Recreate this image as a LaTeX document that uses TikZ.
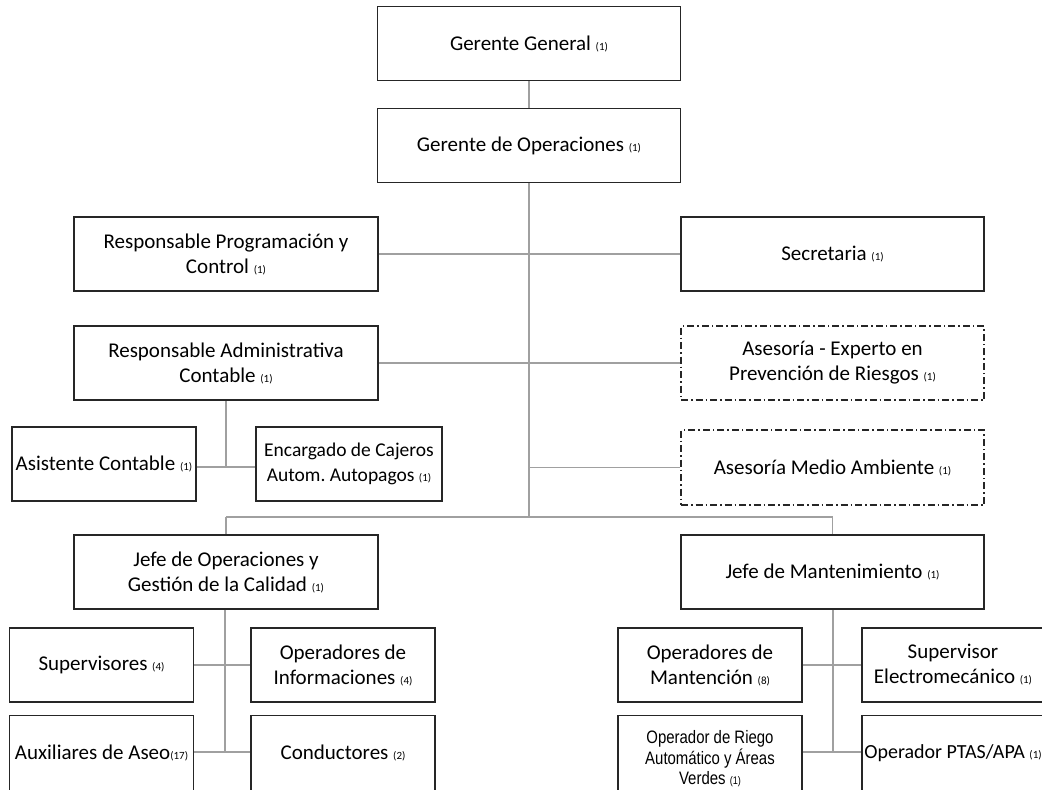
\documentclass[tikz,border=0pt]{standalone}
\usepackage{fontspec}
\setmainfont{Carlito}
\newfontfamily\narrowfont[FakeStretch=0.83]{Liberation Sans}
\definecolor{boxline}{HTML}{262626}
\definecolor{conn}{HTML}{A0A0A0}
\newcommand{\cnt}[1]{{\fontsize{11}{13}\selectfont #1}}
\tikzset{
  orgbox/.style={draw=boxline, line width=1.8pt, align=center, inner sep=1pt,
    font=\fontsize{21}{25}\selectfont, text=black},
  wide/.style={minimum width=303pt, minimum height=74pt},
  small/.style={minimum width=184pt, minimum height=74pt},
  dashbox/.style={line width=1.6pt, dash pattern=on 7pt off 3pt on 1.5pt off 3pt},
  link/.style={draw=conn, line width=1.5pt}
}
\begin{document}
\begin{tikzpicture}[x=1pt,y=-1pt]
\useasboundingbox[fill=white] (0,0) rectangle (1042,790);
% top
\node[orgbox,wide] (gg) at (529,43.5) {Gerente General \cnt{(1)}};
\node[orgbox,wide] (go) at (529,145.5) {Gerente de Operaciones \cnt{(1)}};
% staff
\node[orgbox,wide,minimum width=304pt] (rpc) at (226,254) {Responsable Programación y\\Control \cnt{(1)}};
\node[orgbox,wide] (sec) at (832.5,254) {Secretaria \cnt{(1)}};
\node[orgbox,wide,minimum width=304pt] (rac) at (226,363) {Responsable Administrativa\\Contable \cnt{(1)}};
\node[orgbox,wide,dashbox] (ape) at (832.5,363) {Asesoría - Experto en\\Prevención de Riesgos \cnt{(1)}};
\node[orgbox,wide,dashbox,minimum height=75pt] (ama) at (832.5,467.5) {Asesoría Medio Ambiente \cnt{(1)}};
\node[orgbox,small,inner sep=0pt] (asc) at (104,464) {Asistente Contable \cnt{(1)}};
\node[orgbox,small,minimum width=186pt,font=\fontsize{19.5}{25}\selectfont] (eca) at (349,464) {Encargado de Cajeros\\Autom.\ Autopagos \cnt{(1)}};
% departments
\node[orgbox,wide,minimum width=304pt] (jog) at (226,572) {Jefe de Operaciones y\\Gestión de la Calidad \cnt{(1)}};
\node[orgbox,wide] (jma) at (832.5,572) {Jefe de Mantenimiento \cnt{(1)}};
% operations staff
\node[orgbox,small] (sup) at (101.5,665) {Supervisores \cnt{(4)}};
\node[orgbox,small] (opi) at (343,665) {Operadores de\\Informaciones \cnt{(4)}};
\node[orgbox,small,minimum height=75pt,inner sep=0pt] (aux) at (101.5,753) {Auxiliares de Aseo\cnt{(17)}};
\node[orgbox,small,minimum height=75pt] (con) at (343,753) {Conductores \cnt{(2)}};
% maintenance staff
\node[orgbox,small] (opm) at (710,665) {Operadores de\\Mantención \cnt{(8)}};
\node[orgbox,small,minimum width=182pt] (sel) at (953,665) {Supervisor\\Electromecánico \cnt{(1)}};
\node[orgbox,small,minimum height=87pt,font=\narrowfont\fontsize{18}{20.5}\selectfont] (ori) at (710,759) {Operador de Riego\\Automático y Áreas\\Verdes \cnt{(1)}};
\node[orgbox,small,minimum width=182pt,minimum height=75pt,inner sep=0pt,font=\fontsize{20}{24}\selectfont] (opt) at (953,753) {Operador PTAS/APA \cnt{(1)}};
% connectors
\coordinate (t) at (529,517);
\coordinate (ta) at (226,467);
\coordinate (tl) at (225,752);
\coordinate (tr) at (833,752);
\draw[link] (gg) -- (go);
\draw[link] (go) -- (t);
\draw[link] (rpc) -- (sec);
\draw[link] (rac) -- (ape);
\draw[link] (ama.west) -- (ama.west -| t);
\draw[link] (jog.north |- t) -- (jma.north |- t);
\draw[link] (jog.north |- t) -- (jog.north);
\draw[link] (jma.north |- t) -- (jma.north);
\draw[link] (rac) -- (ta);
\draw[link] (asc.east |- ta) -- (eca.west |- ta);
\draw[link] (jog.south -| tl) -- (tl);
\draw[link] (sup) -- (opi);
\draw[link] (aux.east |- tl) -- (con.west |- tl);
\draw[link] (jma.south -| tr) -- (tr);
\draw[link] (opm) -- (sel);
\draw[link] (ori.east |- tr) -- (opt.west |- tr);
\end{tikzpicture}
\end{document}
